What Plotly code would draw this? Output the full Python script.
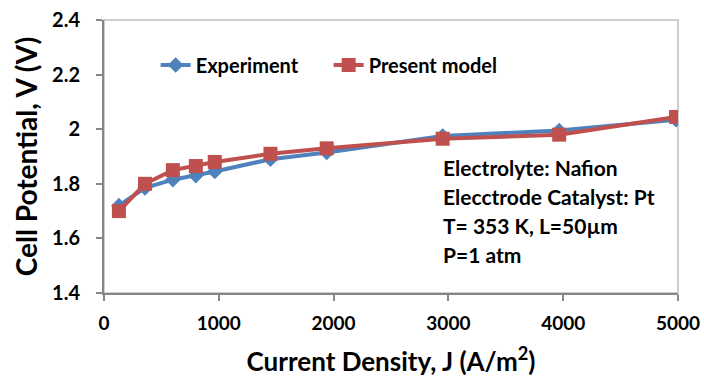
import plotly.graph_objects as go

# Current density (A/m^2) and cell potential (V)
j_exp = [130, 357, 600, 800, 965, 1450, 1940, 2950, 3965, 4983]
v_exp = [1.72, 1.785, 1.815, 1.83, 1.845, 1.89, 1.915, 1.975, 1.995, 2.035]

j_model = [130, 357, 600, 800, 965, 1450, 1940, 2950, 3965, 4983]
v_model = [1.70, 1.80, 1.85, 1.865, 1.88, 1.91, 1.93, 1.965, 1.98, 2.045]

x_ticks = [0, 1000, 2000, 3000, 4000, 5000]
y_ticks = [1.4, 1.6, 1.8, 2.0, 2.2, 2.4]
y_tick_text = ["1.4", "1.6", "1.8", "2", "2.2", "2.4"]

notes = ["Electrolyte: Nafion", "Elecctrode Catalyst: Pt",
         "T= 353 K, L=50\u00b5m", "P=1 atm"]

FONT = "Lato, Carlito, Calibri, sans-serif"
BLUE = "#4F81BD"
RED = "#C0504D"
AXIS = "#868686"

fig = go.Figure()
fig.add_trace(go.Scatter(
    x=j_exp, y=v_exp, name="Experiment", mode="lines+markers",
    line=dict(color=BLUE, width=4),
    marker=dict(symbol="diamond", size=12, color=BLUE),
))
fig.add_trace(go.Scatter(
    x=j_model, y=v_model, name="Present model", mode="lines+markers",
    line=dict(color=RED, width=4),
    marker=dict(symbol="square", size=14, color=RED),
))

# light plot-area frame
fig.add_shape(type="rect", xref="paper", yref="paper", x0=0, y0=0, x1=1, y1=1,
              line=dict(color="#BFBFBF", width=1.5), layer="below")

for i, t in enumerate(notes):
    fig.add_annotation(
        x=0.587, y=0.458 - i * 0.106, xref="paper", yref="paper",
        xanchor="left", yanchor="middle", text=f"<b>{t}</b>", showarrow=False,
        font=dict(family=FONT, size=21, color="black"),
    )

fig.update_layout(
    width=704, height=381,
    margin=dict(l=104, r=26, t=20, b=88, autoexpand=False),
    paper_bgcolor="white", plot_bgcolor="white",
    font=dict(family=FONT, color="black"),
    showlegend=True,
    legend=dict(
        orientation="h", x=0.09, y=0.835, xanchor="left", yanchor="middle",
        font=dict(family=FONT, size=20, color="black", weight="bold"),
        bgcolor="rgba(0,0,0,0)", entrywidth=128, entrywidthmode="pixels",
    ),
    xaxis=dict(
        range=[0, 5000], tickvals=x_ticks, showgrid=False, zeroline=False,
        showline=True, linecolor=AXIS, linewidth=2, automargin=False,
        ticks="outside", ticklen=6, tickcolor=AXIS, tickwidth=1.5,
        ticklabelstandoff=6,
        tickfont=dict(family=FONT, size=19, color="black", weight="bold"),
        title=dict(text="<b>Current Density, J (A/m<sup>2</sup>)</b>",
                   font=dict(family=FONT, size=26, color="black"), standoff=20),
    ),
    yaxis=dict(
        range=[1.4, 2.4], tickvals=y_ticks, ticktext=y_tick_text,
        showgrid=False, zeroline=False,
        showline=True, linecolor=AXIS, linewidth=2, automargin=False,
        ticks="outside", ticklen=6, tickcolor=AXIS, tickwidth=1.5,
        ticklabelstandoff=12,
        tickfont=dict(family=FONT, size=20, color="black", weight="bold"),
        title=dict(text="<b>Cell Potential, V (V)</b>",
                   font=dict(family=FONT, size=28, color="black"), standoff=6),
    ),
)

fig.write_html("out.html")
